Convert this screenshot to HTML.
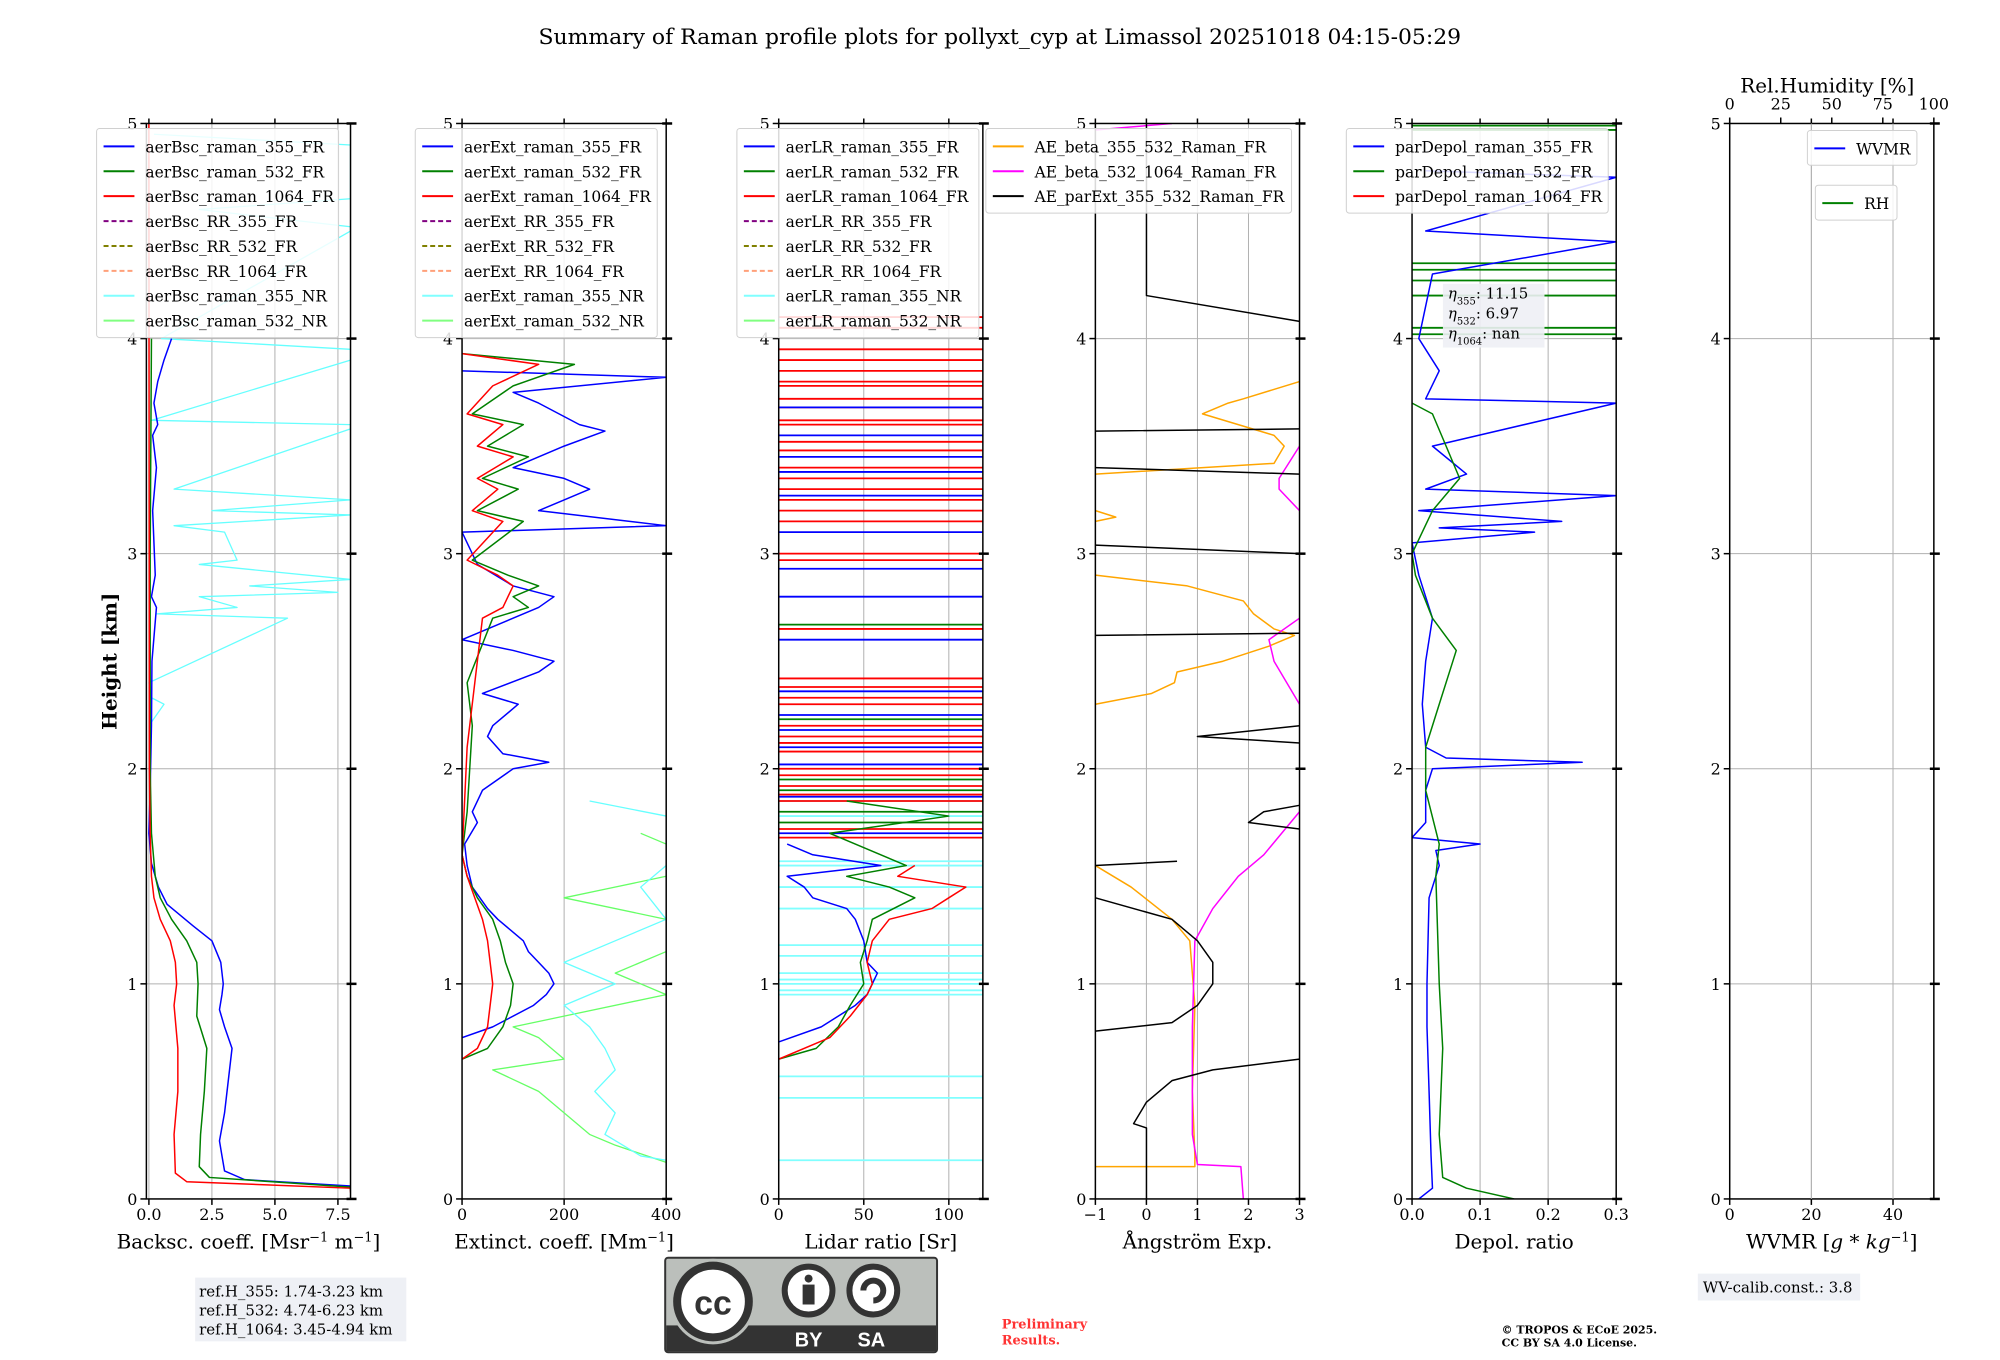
<!DOCTYPE html>
<html><head><meta charset="utf-8">
<style>
html,body{margin:0;padding:0;background:#fff;}
svg{display:block;font-family:"DejaVu Serif","Liberation Serif",serif;}
</style></head>
<body>
<svg id="fig" width="2000" height="1360" viewBox="0 0 2000 1360" xmlns="http://www.w3.org/2000/svg">
<rect width="2000" height="1360" fill="#fff"/>
<g transform="scale(0.9958)">
<text x="1004" y="44" font-size="22" text-anchor="middle">Summary of Raman profile plots for pollyxt_cyp at Limassol 20251018 04:15-05:29</text>
<text transform="translate(117,664) rotate(-90)" font-size="20" font-weight="bold" text-anchor="middle">Height [km]</text>
<g id="axes"></g>
<g>
<rect x="196" y="1283" width="212" height="64" fill="#eef0f5"/>
<text x="200" y="1302" font-size="15">ref.H_355: 1.74-3.23 km</text>
<text x="200" y="1321" font-size="15">ref.H_532: 4.74-6.23 km</text>
<text x="200" y="1340" font-size="15">ref.H_1064: 3.45-4.94 km</text>
</g>
<g>
<rect x="668" y="1263" width="273" height="95" rx="3" fill="#bbbfbb" stroke="#333" stroke-width="2"/>
<rect x="669" y="1331" width="271" height="26" fill="#333"/>
<circle cx="716" cy="1307" r="43" fill="#bbbfbb"/>
<circle cx="716" cy="1307" r="36" fill="#fff" stroke="#333" stroke-width="8"/>
<text x="716" y="1320" font-family="Liberation Sans,sans-serif" font-weight="bold" font-size="34" text-anchor="middle" fill="#333">cc</text>
<circle cx="812" cy="1296" r="24" fill="#fff" stroke="#333" stroke-width="6"/>
<circle cx="812" cy="1284" r="4" fill="#333"/>
<rect x="806" y="1290" width="12" height="20" fill="#333"/>
<circle cx="877" cy="1296" r="24" fill="#fff" stroke="#333" stroke-width="6"/>
<path d="M867 1296 A10 10 0 1 1 877 1306" fill="none" stroke="#333" stroke-width="6"/>
<text x="812" y="1352" font-family="Liberation Sans,sans-serif" font-weight="bold" font-size="20" fill="#fff" text-anchor="middle">BY</text>
<text x="875" y="1352" font-family="Liberation Sans,sans-serif" font-weight="bold" font-size="20" fill="#fff" text-anchor="middle">SA</text>
</g>
<text x="1006" y="1334" font-size="13" font-weight="bold" fill="#ff3333">Preliminary</text>
<text x="1006" y="1350" font-size="13" font-weight="bold" fill="#ff3333">Results.</text>
<text x="1508" y="1339" font-size="11" font-weight="bold">© TROPOS &amp; ECoE 2025.</text>
<text x="1508" y="1352" font-size="11" font-weight="bold">CC BY SA 4.0 License.</text>
<g>
<rect x="1705" y="1279" width="163" height="27" fill="#eef0f5"/>
<text x="1710" y="1298" font-size="15">WV-calib.const.: 3.8</text>
</g>
</g>
</svg>
<script>
// ---------- data ----------
const bsc355H=[0.04,0.06,0.09,0.13,0.2,0.27,0.4,0.5,0.6,0.7,0.8,0.88,0.95,1.0,1.1,1.2,1.27,1.37,1.45,1.56,1.7,1.9,2.2,2.5,2.75,2.8,2.9,3.2,3.4,3.55,3.6,3.7,3.8,3.9,4.0];
const bsc355V=[8,8,3.8,3.0,2.9,2.8,3.0,3.1,3.2,3.3,3.0,2.8,2.9,2.95,2.85,2.5,1.75,0.72,0.38,0.1,0.0,0.05,0.1,0.12,0.3,0.1,0.25,0.15,0.3,0.15,0.35,0.2,0.35,0.6,0.9];
const bsc532H=[0.04,0.055,0.1,0.15,0.3,0.5,0.7,0.85,1.0,1.1,1.2,1.3,1.4,1.5,1.7,2.0,3.0,4.0];
const bsc532V=[8,8,2.4,2.0,2.05,2.2,2.3,1.9,1.95,1.9,1.5,0.9,0.45,0.25,0.1,0.05,0.05,0.1];
const bsc1064H=[0.03,0.05,0.08,0.12,0.3,0.5,0.7,0.9,1.0,1.1,1.2,1.3,1.4,1.5,1.7,2.0,5.0];
const bsc1064V=[8,8,1.5,1.05,1.0,1.15,1.15,1.0,1.1,1.05,0.85,0.45,0.2,0.1,0.05,0.02,0.0];
const bscNR355H=[2.2,2.3,2.33,2.4,2.7,2.72,2.75,2.8,2.82,2.85,2.88,2.95,2.97,3.1,3.13,3.18,3.2,3.25,3.3,3.58,3.6,3.62,3.9,3.92,3.95,4.0,4.5,4.52,4.6,4.65,4.9,4.95];
const bscNR355V=[0.0,0.6,0.1,0.0,5.5,0.3,3.5,2.0,7.5,4.0,8,2.0,3.5,3.0,1.0,8,2.5,8,1.0,8,8,0.1,8,8,8,0.5,8,8,2,8,8,0.2];
const ext355H=[0.75,0.8,0.9,0.95,1.0,1.05,1.1,1.15,1.2,1.25,1.3,1.35,1.45,1.55,1.65,1.75,1.8,1.9,2.0,2.03,2.07,2.15,2.2,2.3,2.35,2.45,2.5,2.55,2.6,2.75,2.8,2.85,2.95,3.1,3.13,3.2,3.25,3.3,3.35,3.4,3.5,3.57,3.6,3.7,3.75,3.82,3.85];
const ext355V=[0,60,140,165,180,170,150,130,120,95,70,50,20,10,5,30,20,40,100,170,80,50,60,110,40,150,180,100,0,150,180,100,30,0,400,150,200,250,200,100,200,280,230,150,100,400,0];
const ext532H=[0.65,0.7,0.8,0.9,1.0,1.1,1.2,1.3,1.4,1.5,1.6,1.8,2.2,2.4,2.7,2.75,2.8,2.85,2.9,2.97,3.15,3.2,3.3,3.35,3.45,3.5,3.6,3.65,3.78,3.88,3.93];
const ext532V=[0,50,80,95,100,85,75,60,30,10,0,10,20,10,60,130,100,150,90,20,120,30,110,40,130,50,120,20,100,220,0];
const ext1064H=[0.65,0.7,0.8,0.9,1.0,1.1,1.2,1.3,1.4,1.5,1.6,2.1,2.7,2.75,2.8,2.85,2.9,2.97,3.15,3.2,3.3,3.35,3.45,3.5,3.6,3.65,3.78,3.88,3.93];
const ext1064V=[0,30,50,55,60,55,50,40,25,10,0,10,40,80,90,100,70,10,80,20,70,30,100,30,80,10,60,150,0];
const extNR355H=[0.18,0.2,0.3,0.4,0.5,0.6,0.7,0.8,0.9,1.0,1.1,1.2,1.3,1.45,1.55,1.78,1.85];
const extNR355V=[400,350,280,300,260,300,280,250,200,300,200,300,400,350,400,400,250];
const extNR532H=[0.17,0.25,0.3,0.4,0.5,0.6,0.65,0.75,0.8,0.95,1.05,1.15,1.3,1.4,1.5,1.65,1.7];
const extNR532V=[400,300,250,200,150,60,200,150,100,400,300,400,400,200,400,400,350];
const lr355H=[0.73,0.8,0.9,0.95,1.0,1.05,1.1,1.2,1.3,1.35,1.4,1.45,1.5,1.55,1.6,1.65];
const lr355V=[0,25,45,52,55,58,52,50,45,40,20,15,5,60,20,5];
const lr532H=[0.65,0.7,0.8,0.9,1.0,1.1,1.2,1.3,1.4,1.45,1.5,1.55,1.7,1.78,1.85];
const lr532V=[0,22,35,42,50,48,52,55,80,65,40,75,30,100,40];
const lr1064H=[0.65,0.75,0.85,0.95,1.0,1.1,1.2,1.3,1.35,1.4,1.45,1.5,1.55];
const lr1064V=[0,30,42,52,55,52,55,65,90,100,110,70,80];
const lr1064Spikes=[1.68,1.72,1.85,1.88,1.92,1.97,2.0,2.08,2.12,2.15,2.2,2.3,2.33,2.38,2.42,2.65,2.97,3.0,3.15,3.2,3.25,3.3,3.35,3.4,3.48,3.52,3.6,3.62,3.68,3.72,3.78,3.8,3.85,3.9,3.95,4.05,4.1];
const lr355Spikes=[1.7,1.87,2.02,2.1,2.18,2.25,2.36,2.6,2.8,2.93,3.1,3.27,3.38,3.45,3.55,3.68];
const lr532Spikes=[1.75,1.8,1.9,1.95,2.23,2.67];
const lrNR355Spikes=[0.18,0.47,0.57,0.95,0.97,1.0,1.02,1.05,1.13,1.18,1.35,1.45,1.55,1.57,1.78,1.85];
const aeBeta355H=[0.15,0.15,0.2,0.5,0.9,1.2,1.3,1.45,1.55,null,2.3,2.35,2.4,2.45,2.5,2.57,2.62,2.65,2.72,2.78,2.85,2.9,null,3.15,3.17,3.2,null,3.37,3.42,3.5,3.55,3.6,3.65,3.7,3.72,3.8];
const aeBeta355V=[-1,0.95,0.95,0.9,0.95,0.85,0.5,-0.3,-1,null,-1,0.1,0.55,0.6,1.5,2.4,2.9,2.5,2.1,1.9,0.8,-1,null,-1,-0.6,-1,null,-1,2.5,2.7,2.5,1.8,1.1,1.6,1.9,3];
const aeBeta532H=[0,0.15,0.16,0.3,0.8,1.2,1.35,1.5,1.6,1.8,null,2.3,2.5,2.6,2.7,null,3.2,3.3,3.35,3.5,null,4.97,5.0];
const aeBeta532V=[1.9,1.85,1.0,0.9,0.9,0.95,1.3,1.8,2.3,3,null,3,2.5,2.4,3,null,3,2.6,2.6,3,null,-1,0.5];
const aeExtH=[0,0.33,0.35,0.45,0.55,0.6,0.65,null,0.78,0.82,0.9,1.0,1.1,1.2,1.3,1.4,null,1.55,1.57,null,1.72,1.75,1.8,1.83,null,2.12,2.15,2.2,null,2.62,2.63,null,3.0,3.04,null,3.37,3.4,null,3.57,3.58,null,4.08,4.2,5.0];
const aeExtV=[0,0,-0.25,0,0.5,1.3,3,null,-1,0.5,1.0,1.3,1.3,1.0,0.5,-1,null,-1,0.6,null,3,2.0,2.3,3,null,3,1.0,3,null,-1,3,null,3,-1,null,3,-1,null,-1,3,null,3,0,0];
const dep355H=[0,0.05,0.2,0.5,0.8,1.0,1.4,1.55,1.62,1.65,1.68,1.75,1.9,2.0,2.03,2.05,2.1,2.3,2.5,2.7,2.9,3.05,3.1,3.12,3.15,3.2,3.27,3.3,3.37,3.5,3.7,3.72,3.85,4.0,4.3,4.45,4.5,4.75,4.78];
const dep355V=[0.01,0.03,0.028,0.025,0.022,0.022,0.025,0.04,0.035,0.1,0.0,0.02,0.02,0.03,0.25,0.05,0.02,0.015,0.02,0.03,0.01,0.0,0.18,0.04,0.22,0.01,0.3,0.02,0.08,0.03,0.3,0.02,0.04,0.01,0.03,0.3,0.02,0.3,0.02];
const dep532H=[0,0.05,0.1,0.3,0.7,1.0,1.5,1.65,1.9,2.1,2.3,2.5,2.55,2.7,2.9,3.0,3.2,3.35,3.5,3.65,3.7];
const dep532V=[0.15,0.08,0.045,0.04,0.045,0.04,0.035,0.04,0.02,0.02,0.04,0.06,0.065,0.03,0.005,0.0,0.03,0.07,0.05,0.03,0.0];
const dep532Spikes=[4.02,4.05,4.2,4.27,4.32,4.35,4.97,4.99];

// ---------- layout ----------
const NS='http://www.w3.org/2000/svg';
const root=document.getElementById('axes');
const TOP=124,BOT=1204,W=205;
function mk(tag,attrs,parent){const e=document.createElementNS(NS,tag);for(const k in attrs)e.setAttribute(k,attrs[k]);(parent||root).appendChild(e);return e;}
function yOf(h){return BOT-(h/5)*(BOT-TOP);}

function makeAxis(idx,left,xmin,xmax,xticks,xtickLabels,xlabel){
  const g=mk('g',{});
  
  
  const xOf=v=>left+(v-xmin)/(xmax-xmin)*W;
  xticks.forEach(v=>{const l=mk('line',{x1:xOf(v),x2:xOf(v),y1:TOP,y2:BOT,stroke:'#b0b0b0','stroke-width':1},g);
    
    });
  [1,2,3,4].forEach(h=>{const l=mk('line',{x1:left,x2:left+W,y1:yOf(h),y2:yOf(h),stroke:'#b0b0b0','stroke-width':1},g);
    
    });
  const cid='clip'+idx;
  const cp=mk('clipPath',{id:cid},g);mk('rect',{x:left,y:TOP,width:W,height:BOT-TOP},cp);
  const plot=mk('g',{'clip-path':'url(#'+cid+')'},g);
  
  
  xticks.forEach((v,i)=>{mk('line',{x1:xOf(v),x2:xOf(v),y1:BOT,y2:BOT+6,stroke:'#000','stroke-width':1.5},g);
    mk('line',{x1:xOf(v),x2:xOf(v),y1:TOP,y2:TOP-5,stroke:'#000','stroke-width':1.5},g);
    const t=mk('text',{x:xOf(v),y:BOT+21,'font-size':16,'text-anchor':'middle'},g);t.textContent=xtickLabels[i];
    
    });
  [0,1,2,3,4,5].forEach(h=>{mk('line',{x1:left-6,x2:left,y1:yOf(h),y2:yOf(h),stroke:'#000','stroke-width':1.5},g);
    mk('line',{x1:left+W-4,x2:left+W+6,y1:yOf(h),y2:yOf(h),stroke:'#000','stroke-width':2.5},g);
    const t=mk('text',{x:left-9,y:yOf(h)+6,'font-size':16,'text-anchor':'end'},g);t.textContent=String(h);
    
    });
  mk('rect',{x:left,y:TOP,width:W,height:BOT-TOP,fill:'none',stroke:'#000','stroke-width':1.5},g);
  if(xlabel){const t=mk('text',{x:left+W/2,y:BOT+50,'font-size':20,'text-anchor':'middle'},g);t.innerHTML=xlabel;
    
    }
  return {g,plot,xOf,left,xmin,xmax};
}
function series(ax,H,V,color,name,w){
  let d='',pen=false;
  for(let i=0;i<H.length;i++){
    if(H[i]===null||V[i]===null){pen=false;continue;}
    d+=(pen?'L':'M')+ax.xOf(V[i]).toFixed(1)+' '+yOf(H[i]).toFixed(1);pen=true;
  }
  const p=mk('path',{d:d,fill:'none',stroke:color,'stroke-width':w||1.5,'stroke-linejoin':'round'},ax.plot);
  
  
}
function spikes(ax,hs,color,name){
  hs.forEach(h=>{const l=mk('line',{x1:ax.xOf(ax.xmin),x2:ax.xOf(ax.xmax),y1:yOf(h),y2:yOf(h),stroke:color,'stroke-width':1.8},ax.plot);
    
    });
}
function legend(x,y,w,entries,name){
  const g=mk('g',{});
  
  
  mk('rect',{x:x,y:y,width:w,height:entries.length*25+10,rx:3,fill:'#fff','fill-opacity':0.85,stroke:'#d0d0d0'},g);
  entries.forEach((e,i)=>{const yy=y+18+i*25;
    mk('line',{x1:x+7,x2:x+38,y1:yy,y2:yy,stroke:e[1],'stroke-width':2,'stroke-dasharray':e[2]?'5,3':'none'},g);
    const t=mk('text',{x:x+49,y:yy+6,'font-size':15.5},g);t.textContent=e[0];
    
    });
}
const a1=makeAxis(1,147,-0.1,8,[0,2.5,5,7.5],['0.0','2.5','5.0','7.5'],'Backsc. coeff. [Msr<tspan baseline-shift="super" font-size="13">−1</tspan> m<tspan baseline-shift="super" font-size="13">−1</tspan>]');
series(a1,bscNR355H,bscNR355V,'#66ffff','bsc-355-nr-line',1.3);
series(a1,bsc355H,bsc355V,'#0000ff','bsc-355-fr-line');
series(a1,bsc532H,bsc532V,'#008000','bsc-532-fr-line');
series(a1,bsc1064H,bsc1064V,'#ff0000','bsc-1064-fr-line');
const a2=makeAxis(2,464,0,400,[0,200,400],['0','200','400'],'Extinct. coeff. [Mm<tspan baseline-shift="super" font-size="13">−1</tspan>]');
series(a2,extNR532H,extNR532V,'#66ff66','ext-532-nr-line',1.3);
series(a2,extNR355H,extNR355V,'#66ffff','ext-355-nr-line',1.3);
series(a2,ext355H,ext355V,'#0000ff','ext-355-fr-line');
series(a2,ext532H,ext532V,'#008000','ext-532-fr-line');
series(a2,ext1064H,ext1064V,'#ff0000','ext-1064-fr-line');
const a3=makeAxis(3,782,0,120,[0,50,100],['0','50','100'],'Lidar ratio [Sr]');
spikes(a3,lrNR355Spikes,'#80ffff','lr-355-nr-spike');
spikes(a3,lr1064Spikes,'#ff0000','lr-1064-spike');
spikes(a3,lr355Spikes,'#0000ff','lr-355-spike');
spikes(a3,lr532Spikes,'#008000','lr-532-spike');
series(a3,lr355H,lr355V,'#0000ff','lr-355-fr-line');
series(a3,lr532H,lr532V,'#008000','lr-532-fr-line');
series(a3,lr1064H,lr1064V,'#ff0000','lr-1064-fr-line');
const a4=makeAxis(4,1100,-1,3,[-1,0,1,2,3],['−1','0','1','2','3'],'Ångström Exp.');
series(a4,aeBeta355H,aeBeta355V,'#ffa500','ae-beta-355-532-line');
series(a4,aeBeta532H,aeBeta532V,'#ff00ff','ae-beta-532-1064-line');
series(a4,aeExtH,aeExtV,'#000000','ae-ext-355-532-line');
const a5=makeAxis(5,1418,0,0.3,[0,0.1,0.2,0.3],['0.0','0.1','0.2','0.3'],'Depol. ratio');
spikes(a5,dep532Spikes,'#008000','depol-532-spike');
series(a5,dep355H,dep355V,'#0000ff','depol-355-line');
series(a5,dep532H,dep532V,'#008000','depol-532-line');
const a6=makeAxis(6,1737,0,50,[0,20,40],['0','20','40'],'WVMR [<tspan font-style="italic">g</tspan> * <tspan font-style="italic">kg</tspan><tspan baseline-shift="super" font-size="13">−1</tspan>]');
const rhTicks=[0,25,50,75,100];
rhTicks.forEach(v=>{const x=1737+v/100*W;
  mk('line',{x1:x,x2:x,y1:TOP-6,y2:TOP,stroke:'#000','stroke-width':1.5});
  const t=mk('text',{x:x,y:TOP-14,'font-size':16,'text-anchor':'middle'});t.textContent=String(v);
  
  });
[40,80].forEach(v=>{const l=mk('line',{x1:1737+v/100*W,x2:1737+v/100*W,y1:TOP,y2:BOT,stroke:'#b0b0b0','stroke-width':1});
  
  });
const rht=mk('text',{x:1835,y:93,'font-size':20,'text-anchor':'middle'});rht.textContent='Rel.Humidity [%]';



const fr=['#0000ff','#008000','#ff0000'];
legend(97,129,243,[['aerBsc_raman_355_FR',fr[0]],['aerBsc_raman_532_FR',fr[1]],['aerBsc_raman_1064_FR',fr[2]],['aerBsc_RR_355_FR','#800080',1],['aerBsc_RR_532_FR','#808000',1],['aerBsc_RR_1064_FR','#ffa07a',1],['aerBsc_raman_355_NR','#80ffff'],['aerBsc_raman_532_NR','#80ff80']],'bsc-legend');
legend(417,129,243,[['aerExt_raman_355_FR',fr[0]],['aerExt_raman_532_FR',fr[1]],['aerExt_raman_1064_FR',fr[2]],['aerExt_RR_355_FR','#800080',1],['aerExt_RR_532_FR','#808000',1],['aerExt_RR_1064_FR','#ffa07a',1],['aerExt_raman_355_NR','#80ffff'],['aerExt_raman_532_NR','#80ff80']],'ext-legend');
legend(740,129,243,[['aerLR_raman_355_FR',fr[0]],['aerLR_raman_532_FR',fr[1]],['aerLR_raman_1064_FR',fr[2]],['aerLR_RR_355_FR','#800080',1],['aerLR_RR_532_FR','#808000',1],['aerLR_RR_1064_FR','#ffa07a',1],['aerLR_raman_355_NR','#80ffff'],['aerLR_raman_532_NR','#80ff80']],'lr-legend');
legend(990,129,307,[['AE_beta_355_532_Raman_FR','#ffa500'],['AE_beta_532_1064_Raman_FR','#ff00ff'],['AE_parExt_355_532_Raman_FR','#000000']],'ae-legend');
legend(1352,129,263,[['parDepol_raman_355_FR',fr[0]],['parDepol_raman_532_FR',fr[1]],['parDepol_raman_1064_FR',fr[2]]],'depol-legend');
legend(1815,131,110,[['WVMR','#0000ff']],'wvmr-legend');
legend(1823,186,82,[['RH','#008000']],'rh-legend');
const eb=mk('g',{});


mk('rect',{x:1449,y:285,width:102,height:64,fill:'#eef0f5','fill-opacity':0.9},eb);
[['355','11.15'],['532','6.97'],['1064','nan']].forEach((r,i)=>{const t=mk('text',{x:1454,y:300+i*20,'font-size':15},eb);
  t.innerHTML='<tspan font-style="italic">η</tspan><tspan font-size="10" baseline-shift="sub">'+r[0]+'</tspan>: '+r[1];});
</script>
</body></html>
